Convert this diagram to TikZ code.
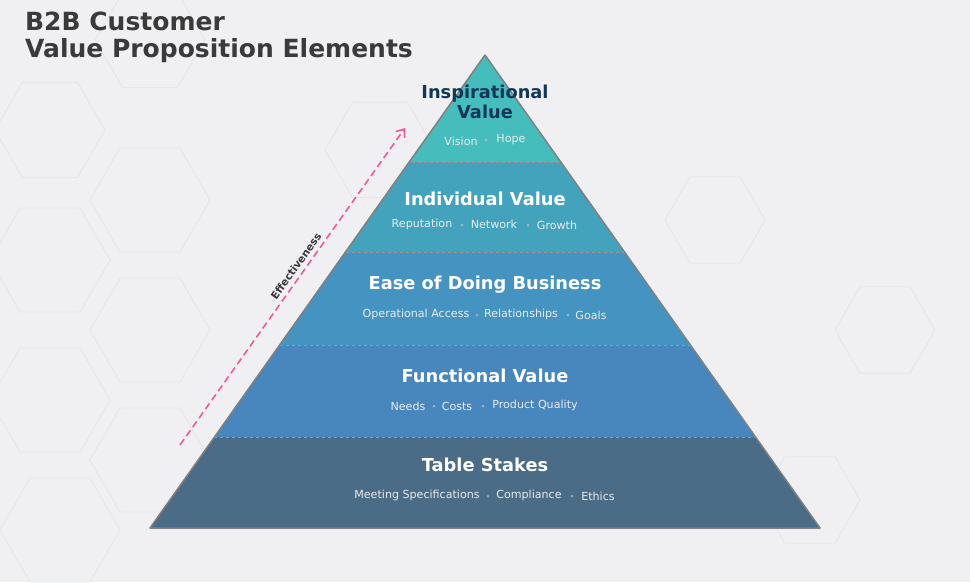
\documentclass[tikz,border=0pt]{standalone}
\usepackage{fontspec}
\setmainfont{DejaVu Sans}
\usetikzlibrary{arrows.meta}
\definecolor{bgc}{HTML}{F0F0F3}
\definecolor{lA}{HTML}{45BDBD}
\definecolor{lB}{HTML}{44A3BC}
\definecolor{lC}{HTML}{4593C0}
\definecolor{lD}{HTML}{4886BE}
\definecolor{lE}{HTML}{4A6C86}
\definecolor{ttl}{HTML}{3A3A3A}
\definecolor{navy}{HTML}{12365A}
\definecolor{pinkc}{HTML}{F0589A}
\definecolor{hexc}{HTML}{E4E5EA}
\tikzset{
 head/.style={font=\bfseries\fontsize{17.8}{20}\selectfont, text=white, align=center},
 item/.style={font=\fontsize{11.1}{13}\selectfont, text=white!92!black},
 dot/.style={circle, fill=white!60!gray, inner sep=0pt, minimum size=3pt, opacity=0.6},
 hex/.style={draw=hexc, line width=0.8pt},
 sep/.style={draw=gray!80, dashed, line width=0.6pt}
}
\newcommand{\hexat}[3]{\draw[hex] (#1,#2) ++(0:#3) -- ++(120:#3) -- ++(180:#3) -- ++(240:#3) -- ++(300:#3) -- ++(0:#3) -- cycle;}
\begin{document}
\begin{tikzpicture}[x=1pt,y=-1pt]
\fill[bgc] (0,0) rectangle (970,582);
\useasboundingbox (0,0) rectangle (970,582);
\hexat{50}{130}{55}
\hexat{150}{200}{60}
\hexat{50}{260}{60}
\hexat{150}{330}{60}
\hexat{50}{400}{60}
\hexat{150}{460}{60}
\hexat{60}{530}{60}
\hexat{715}{220}{50}
\hexat{885}{330}{50}
\hexat{380}{150}{55}
\hexat{810}{500}{50}
\hexat{150}{40}{55}
% pyramid
\coordinate (apex) at (485,55);
\coordinate (bl) at (150,528);
\coordinate (br) at (820,528);
\begin{scope}
\clip (apex) -- (br) -- (bl) -- cycle;
\fill[lA] (100,40) rectangle (900,162);
\fill[lB] (100,162) rectangle (900,252);
\fill[lC] (100,252) rectangle (900,345);
\fill[lD] (100,345) rectangle (900,437);
\fill[lE] (100,437) rectangle (900,540);
\draw[sep] (100,162) -- (900,162);
\draw[sep] (100,252) -- (900,252);
\draw[sep] (100,345) -- (900,345);
\draw[sep] (100,437) -- (900,437);
\end{scope}
\draw[gray, line width=1.5pt, line join=round] (apex) -- (br) -- (bl) -- cycle;
% title
\node[anchor=north west, align=left, text=ttl, font=\bfseries\fontsize{25}{27}\selectfont, inner sep=0pt] (title) at (25,12) {B2B Customer\\Value Proposition Elements};
% layers
\node[head, text=navy] (h1) at (485,102) {Inspirational\\Value};
\node[item] (i11) at (461,141) {Vision};
\node[dot] (d11) at (486,140) {};
\node[item] (i12) at (511,140) {Hope};
\node[head] (h2) at (485,199) {Individual Value};
\node[item] (i21) at (422,224) {Reputation};
\node[dot] (d21) at (462,225) {};
\node[item] (i22) at (494,224) {Network};
\node[dot] (d22) at (528,225) {};
\node[item] (i23) at (557,225) {Growth};
\node[head] (h3) at (485,285) {Ease of Doing Business};
\node[item] (i31) at (416,314) {Operational Access};
\node[dot] (d31) at (477,315) {};
\node[item] (i32) at (521,314) {Relationships};
\node[dot] (d32) at (568,315) {};
\node[item] (i33) at (591,315) {Goals};
\node[head] (h4) at (485,376) {Functional Value};
\node[item] (i41) at (408,406) {Needs};
\node[dot] (d41) at (434,406) {};
\node[item] (i42) at (457,406) {Costs};
\node[dot] (d42) at (483,406) {};
\node[item] (i43) at (535,405) {Product Quality};
\node[head] (h5) at (485,465) {Table Stakes};
\node[item] (i51) at (417,495) {Meeting Specifications};
\node[dot] (d51) at (488,496) {};
\node[item] (i52) at (529,495) {Compliance};
\node[dot] (d52) at (572,496) {};
\node[item] (i53) at (598,496) {Ethics};
% effectiveness arrow
\coordinate (ea) at (180,445);
\coordinate (eb) at (405,128);
\draw[pinkc, dash pattern=on 7pt off 4pt, line width=1.6pt, -{Straight Barb[length=7pt,width=11pt]}] (ea) -- (eb);
\node[rotate=54.6, font=\bfseries\fontsize{10.5}{12}\selectfont, text=ttl] (eff) at (296,266) {Effectiveness};
\end{tikzpicture}
\end{document}
